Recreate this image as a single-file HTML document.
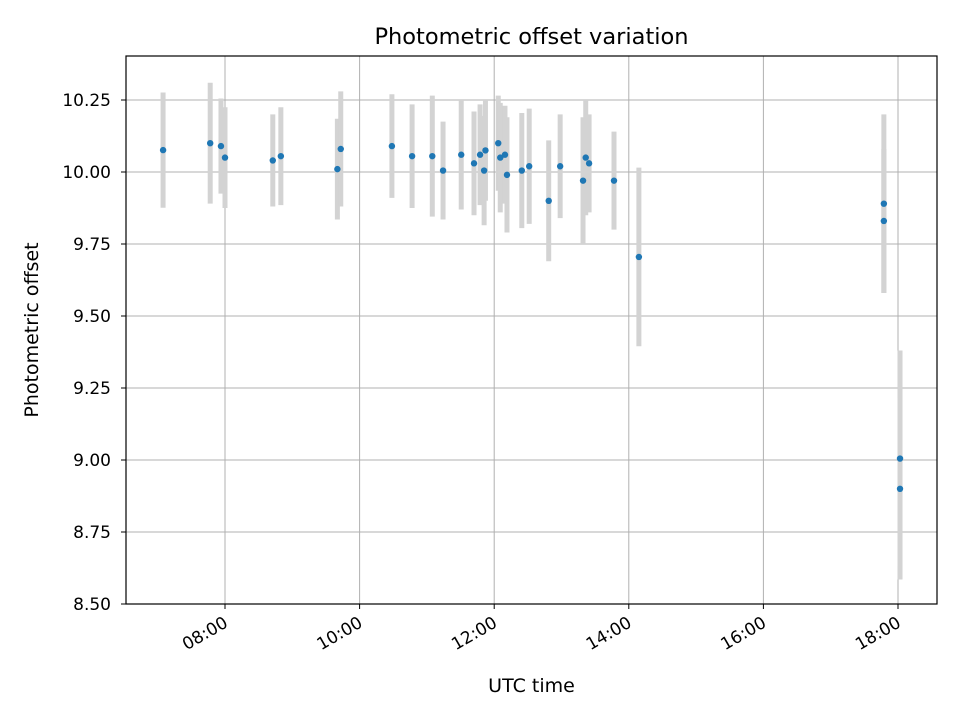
<!DOCTYPE html>
<html><head><meta charset="utf-8"><style>
body{margin:0;background:#fff}
svg{display:block;font-family:"DejaVu Sans","Liberation Sans",sans-serif}
</style></head><body>
<svg id="chart" width="960" height="720">
<rect width="960" height="720" fill="#fff"/>
<g id="grid"></g><g id="bars"></g><g id="pts"></g><g id="axes"></g>
<text x="531.5" y="44" text-anchor="middle" style="font-size:22.5px">Photometric offset variation</text>
<text x="531.5" y="692" text-anchor="middle" style="font-size:19px">UTC time</text>
<text transform="translate(38,330) rotate(-90)" text-anchor="middle" style="font-size:19px">Photometric offset</text>
</svg>
<script>
const times=[7.08,7.78,7.94,8.0,8.71,8.83,9.67,9.72,10.48,10.78,11.08,11.24,11.51,11.70,11.79,11.85,11.87,12.06,12.09,12.16,12.19,12.41,12.52,12.81,12.98,13.32,13.36,13.41,13.78,14.15,17.79,17.79,18.03,18.03];
const offsets=[10.076,10.10,10.09,10.05,10.04,10.055,10.01,10.08,10.09,10.055,10.055,10.005,10.06,10.03,10.06,10.005,10.075,10.10,10.05,10.06,9.99,10.005,10.02,9.90,10.02,9.97,10.05,10.03,9.97,9.705,9.89,9.83,9.005,8.90];
const errors=[0.2,0.21,0.165,0.175,0.16,0.17,0.175,0.2,0.18,0.18,0.21,0.17,0.19,0.18,0.175,0.19,0.175,0.165,0.19,0.17,0.2,0.2,0.2,0.21,0.18,0.22,0.2,0.17,0.17,0.31,0.31,0.25,0.375,0.315];
const yTicks=[8.5,8.75,9.0,9.25,9.5,9.75,10.0,10.25];
const xTicks=[8,10,12,14,16,18];
const xTickLabels=["08:00","10:00","12:00","14:00","16:00","18:00"];
const L=126,R=937,T=56,B=604;
const xs=h=>225+(h-8)*67.3;
const ys=v=>172-(v-10)*288;
const NS="http://www.w3.org/2000/svg";
function mk(p,tag,at){const e=document.createElementNS(NS,tag);for(const k in at)e.setAttribute(k,at[k]);p.appendChild(e);return e;}
const grid=document.getElementById('grid'),axes=document.getElementById('axes'),bars=document.getElementById('bars'),pts=document.getElementById('pts');
yTicks.forEach(v=>{const y=ys(v);
 const g=mk(grid,'line',{x1:L,x2:R,y1:y,y2:y,stroke:'#b0b0b0','stroke-width':1});
 
 
 mk(axes,'line',{x1:L-5,x2:L,y1:y,y2:y,stroke:'#000','stroke-width':1});
 const t=mk(axes,'text',{x:L-15,y:y+6,'text-anchor':'end',style:'font-size:17px'});t.textContent=v.toFixed(2);
 
 
});
xTicks.forEach((h,i)=>{const x=xs(h);
 const g=mk(grid,'line',{x1:x,x2:x,y1:T,y2:B,stroke:'#b0b0b0','stroke-width':1});
 
 
 mk(axes,'line',{x1:x,x2:x,y1:B,y2:B+5,stroke:'#000','stroke-width':1});
 const t=mk(axes,'text',{x:0,y:0,'text-anchor':'end',style:'font-size:17px',transform:`translate(${x+4},${B+22}) rotate(-30)`});t.textContent=xTickLabels[i];
 
 
});
const fr=mk(axes,'rect',{x:L,y:T,width:R-L,height:B-T,fill:'none',stroke:'#000','stroke-width':1.2});


times.forEach((h,i)=>{const x=xs(h);
 const b=mk(bars,'line',{x1:x,x2:x,y1:ys(offsets[i]+errors[i]),y2:ys(offsets[i]-errors[i]),stroke:'#d3d3d3','stroke-width':5});
 
 
 const c=mk(pts,'circle',{cx:x,cy:ys(offsets[i]),r:3.2,fill:'#1f77b4'});
 
 
});
</script>
</body></html>
